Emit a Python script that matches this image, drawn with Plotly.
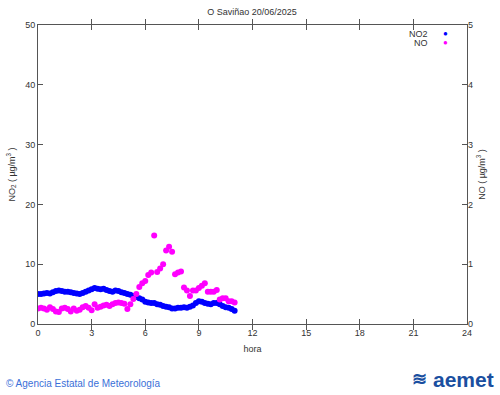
import plotly.graph_objects as go

title = "O Saviñao 20/06/2025"
hours = [i / 6 for i in range(67)]

no2 = [5.0, 5.0, 5.1, 5.2, 5.1, 5.3, 5.5,
       5.6, 5.5, 5.4, 5.4, 5.3, 5.2,
       5.1, 5.0, 5.2, 5.4, 5.6, 5.8,
       6.0, 5.9, 5.8, 5.9, 5.7, 5.5,
       5.4, 5.6, 5.5, 5.3, 5.2, 5.0,
       4.9, 4.7, 4.5, 4.3, 4.1, 3.7,
       3.6, 3.5, 3.5, 3.3, 3.2, 3.0,
       2.9, 2.8, 2.6, 2.6, 2.7, 2.7,
       2.8, 2.7, 2.9, 3.1, 3.5, 3.8,
       3.7, 3.5, 3.4, 3.3, 3.5, 3.5,
       3.3, 3.0, 2.8, 2.7, 2.5, 2.2]

no = [0.26, 0.27, 0.26, 0.24, 0.28, 0.25, 0.21,
      0.20, 0.26, 0.27, 0.25, 0.21, 0.26,
      0.22, 0.24, 0.28, 0.30, 0.27, 0.23,
      0.33, 0.27, 0.29, 0.31, 0.32, 0.30,
      0.33, 0.35, 0.36, 0.35, 0.34, 0.25,
      0.33, 0.42, 0.50, 0.62, 0.68, 0.72,
      0.82, 0.86, 1.48, 0.87, 0.93, 1.00,
      1.23, 1.29, 1.21, 0.83, 0.86, 0.88,
      0.61, 0.56, 0.47, 0.56, 0.56, 0.60,
      0.64, 0.68, 0.54, 0.54, 0.54, 0.57,
      0.41, 0.43, 0.43, 0.38, 0.38, 0.36]

x_ticks = [0, 3, 6, 9, 12, 15, 18, 21, 24]
y_ticks = [0, 10, 20, 30, 40, 50]
y2_ticks = [0, 1, 2, 3, 4, 5]

FONT = "Liberation Sans, Arial, sans-serif"
AX = "#555555"
TXT = "#333333"

fig = go.Figure()
fig.add_trace(go.Scatter(x=hours, y=no2, mode="markers", name="NO2",
                         marker=dict(color="#0000ff", size=6, line=dict(width=0)),
                         showlegend=False))
fig.add_trace(go.Scatter(x=hours, y=no, mode="markers", name="NO", yaxis="y2",
                         marker=dict(color="#ff00ff", size=6, line=dict(width=0)),
                         showlegend=False))

fig.update_layout(
    width=500, height=395,
    margin=dict(l=38, r=33, t=25, b=71, autoexpand=False),
    paper_bgcolor="white", plot_bgcolor="white",
    font=dict(family=FONT, size=9, color=TXT),
    title=dict(text=title, x=(252) / 500, xanchor="center", y=1 - 12 / 395, yanchor="middle",
               font=dict(size=9, color=TXT)),
    xaxis=dict(range=[0, 24], tickvals=x_ticks, ticktext=[str(v) for v in x_ticks],
               ticks="inside", ticklen=5, tickcolor=AX, showgrid=False, zeroline=False,
               showline=True, linecolor=AX, linewidth=1, mirror="allticks",
               title=dict(text="hora", standoff=8, font=dict(size=9, color=TXT))),
    yaxis=dict(range=[0, 50], tickvals=y_ticks, ticktext=[str(v) for v in y_ticks],
               ticks="inside", ticklen=5, tickcolor=AX, showgrid=False, zeroline=False,
               showline=True, linecolor=AX, linewidth=1, mirror=True,
               title=dict(text="NO<sub>2</sub> ( µg/m<sup>3</sup> )", standoff=8,
                          font=dict(size=9, color=TXT))),
    yaxis2=dict(range=[0, 5], tickvals=y2_ticks, ticktext=[str(v) for v in y2_ticks],
                overlaying="y", side="right", ticks="inside", ticklen=5, tickcolor=AX,
                showgrid=False, zeroline=False, showline=False,
                title=dict(text="NO ( µg/m<sup>3</sup> )", standoff=6,
                           font=dict(size=9, color=TXT))),
)

# legend (text then symbol, like the original)
fig.add_annotation(xref="paper", yref="paper", x=(430 - 38) / 429, y=1 - 9 / 299,
                   text="NO2", showarrow=False, xanchor="right", yanchor="middle",
                   font=dict(size=9, color=TXT))
fig.add_annotation(xref="paper", yref="paper", x=(430 - 38) / 429, y=1 - 18 / 299,
                   text="NO", showarrow=False, xanchor="right", yanchor="middle",
                   font=dict(size=9, color=TXT))
fig.add_annotation(xref="paper", yref="paper", x=(445 - 38) / 429, y=1 - 9 / 299,
                   text="●", showarrow=False, xanchor="center", yanchor="middle",
                   font=dict(size=8, color="#0000ff"))
fig.add_annotation(xref="paper", yref="paper", x=(445 - 38) / 429, y=1 - 18 / 299,
                   text="●", showarrow=False, xanchor="center", yanchor="middle",
                   font=dict(size=8, color="#ff00ff"))

# footer
fig.add_annotation(xref="paper", yref="paper", x=-34 / 429, y=-(383 - 324) / 299,
                   text="© Agencia Estatal de Meteorología", showarrow=False,
                   xanchor="left", yanchor="middle",
                   font=dict(size=10, color="#3a6fd8"))
fig.add_annotation(xref="paper", yref="paper", x=(496 - 38) / 429, y=-(379 - 324) / 299,
                   text="<b>aemet</b>", showarrow=False,
                   xanchor="right", yanchor="middle",
                   font=dict(size=21, color="#1a4fa0", family="Liberation Sans, Arial, sans-serif"))
fig.add_annotation(xref="paper", yref="paper", x=(419 - 38) / 429, y=-(379 - 324) / 299,
                   text="<b>≋</b>", showarrow=False,
                   xanchor="center", yanchor="middle",
                   font=dict(size=18, color="#1a4fa0"))

fig.write_html("out.html", config={"displayModeBar": False},
               post_script="document.body.style.margin='0';")
